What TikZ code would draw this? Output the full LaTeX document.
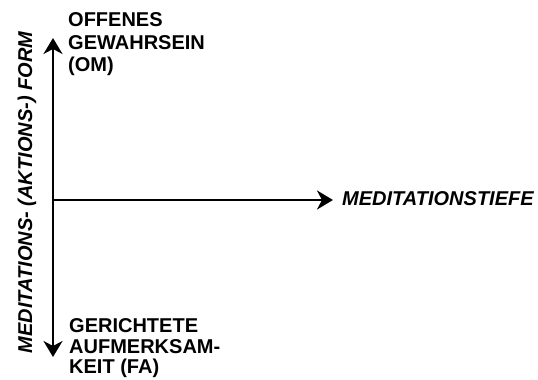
\documentclass[tikz,border=0pt]{standalone}
\usepackage{fontspec}
\setmainfont{Liberation Sans}
\usetikzlibrary{arrows.meta}

\begin{document}
\begin{tikzpicture}[
    x=1pt, y=-1pt,
    every node/.style={inner sep=0pt, font=\fontsize{20}{22.5}\selectfont\bfseries},
    axis/.style={-{Stealth[length=16pt, width=19pt, inset=5pt]}, line width=2pt},
    pole/.style={align=left, anchor=north west},
    axlabel/.style={font=\fontsize{20}{22.5}\selectfont\bfseries\itshape}
]
\useasboundingbox (0,0) rectangle (538,380);

% Achsen
\coordinate (o) at (53,200);
\coordinate (top) at (53,38);
\coordinate (bottom) at (53,357);
\coordinate (right) at (333,200);

\draw[axis] (o) -- (top);
\draw[axis] (o) -- (bottom);
\draw[axis] (o) -- (right);

% Pole der Form-Achse
\node[pole] (om) at (68,12.5) {OFFENES\\GEWAHRSEIN\\(OM)};
\node[pole, font=\fontsize{20}{20.5}\selectfont\bfseries] (fa) at (69,318.5) {GERICHTETE\\AUFMERKSAM-\\KEIT (FA)};

% Achsenbeschriftungen
\node[axlabel, anchor=base west] (tiefe) at (342,205) {MEDITATIONSTIEFE};
\node[axlabel, anchor=base, rotate=90] (form) at (32,192.5) {MEDITATIONS- (AKTIONS-) FORM};

\end{tikzpicture}
\end{document}
